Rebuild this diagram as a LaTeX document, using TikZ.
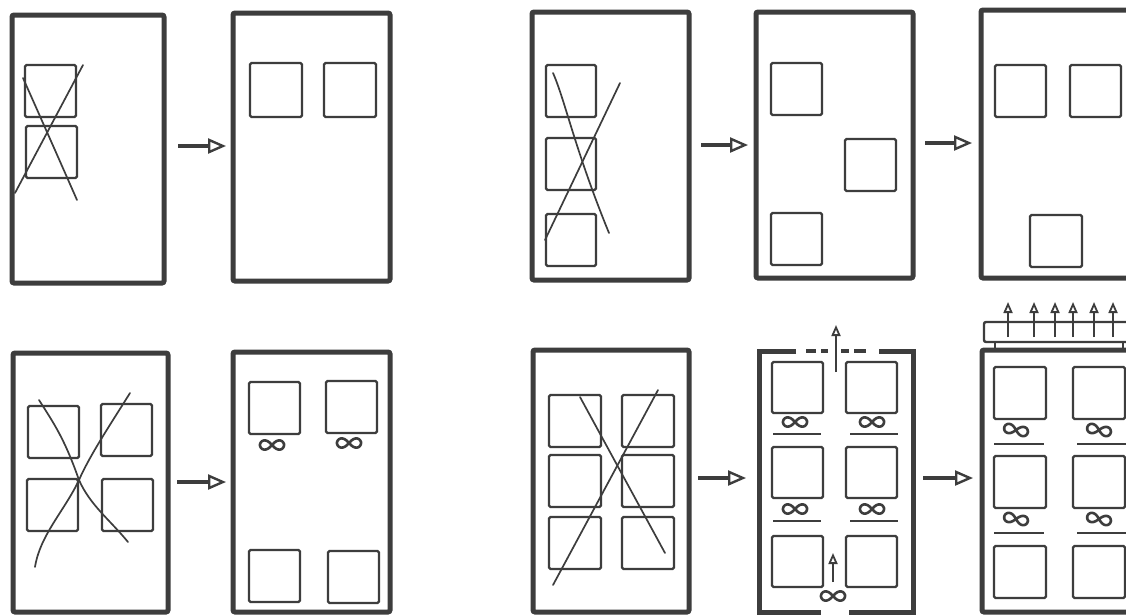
\documentclass[tikz,border=0pt]{standalone}
\usepackage{amsmath,amssymb}
\usetikzlibrary{arrows.meta,calc}

\definecolor{ink}{gray}{0.24}

\tikzset{
  cabinet/.style={draw=ink, line width=5pt, rounded corners=2pt},
  module/.style={draw=ink, line width=2.3pt, rounded corners=1.5pt},
  strike/.style={draw=ink, line width=1.7pt, line cap=round},
  bar/.style={draw=ink, line width=2pt},
  moveto/.style={draw=ink, line width=3.6pt,
    -{Triangle[open, length=18pt, width=15pt, line width=2.4pt]}},
  airflow/.style={draw=ink, line width=1.7pt,
    -{Triangle[open, length=11pt, width=9pt, line width=1.8pt]}},
  lemni/.pic={
    \draw[ink, line width=2.6pt] plot[variable=\t, domain=0:360, samples=72, smooth cycle]
      ({12*cos(\t)/(1+sin(\t)^2)}, {13*sin(\t)*cos(\t)/(1+sin(\t)^2)});
  },
}

\begin{document}
\begin{tikzpicture}[x=1pt, y=-1pt]

\useasboundingbox (0,0) rectangle (1126,614);
\clip (0,0) rectangle (1126,614);
\fill[white] (0,0) rectangle (1126,614);

% === Top row, left pair: two stacked modules -> side by side ===
\draw[cabinet] (12,15) rectangle (164,283);
\draw[module] (25,65) rectangle (76,117);
\draw[module] (26,126) rectangle (77,178);
% crossed out
\draw[strike] (23,78) .. controls (35,105) and (55,150) .. (77,200);
\draw[strike] (83,65) -- (15,193);

\draw[cabinet] (233,13) rectangle (390,281);
\draw[module] (250,63) rectangle (302,117);
\draw[module] (324,63) rectangle (376,117);

\coordinate (a1s) at (178,146);
\coordinate (a1e) at (226,146);
\draw[moveto] (a1s) -- (a1e);

% === Top row, right triple: three stacked modules -> staggered -> spread ===
\draw[cabinet] (532,12) rectangle (689,280);
\foreach \y in {65,138,214}
  \draw[module] (546,\y) rectangle (596,\y+52);
\draw[strike] (553,73) .. controls (565,100) and (575,150) .. (609,233);
\draw[strike] (620,83) -- (545,240);

\coordinate (a2s) at (701,145);
\coordinate (a2e) at (748,145);
\draw[moveto] (a2s) -- (a2e);

\draw[cabinet] (756,12) rectangle (913,278);
\draw[module] (771,63) rectangle (822,115);
\draw[module] (845,139) rectangle (896,191);
\draw[module] (771,213) rectangle (822,265);

\coordinate (a3s) at (925,143);
\coordinate (a3e) at (972,143);
\draw[moveto] (a3s) -- (a3e);

\draw[cabinet] (981,10) rectangle (1145,278);
\draw[module] (995,65) rectangle (1046,117);
\draw[module] (1070,65) rectangle (1121,117);
\draw[module] (1030,215) rectangle (1082,267);

% === Bottom row, left pair: 2x2 block -> spread with spacing ===
\draw[cabinet] (13,353) rectangle (168,612);
\foreach \x/\y in {28/406,101/404,27/479,102/479}
  \draw[module] (\x,\y) rectangle (\x+51,\y+52);
\draw[strike] (39,400) .. controls (55,425) and (65,440) .. (79,480)
  .. controls (90,505) and (110,520) .. (128,542);
\draw[strike] (130,393) .. controls (110,425) and (90,455) .. (79,480)
  .. controls (65,510) and (40,535) .. (35,567);

\coordinate (a4s) at (177,482);
\coordinate (a4e) at (226,482);
\draw[moveto] (a4s) -- (a4e);

\draw[cabinet] (233,352) rectangle (390,612);
\foreach \x/\y in {249/382,326/381,249/550,328/551}
  \draw[module] (\x,\y) rectangle (\x+51,\y+52);
\pic at (272,445) {lemni};
\pic at (349,443) {lemni};

% === Bottom row, right triple: 2x3 block -> gaps + open top/bottom -> hood ===
\draw[cabinet] (533,350) rectangle (689,612);
\foreach \y in {395,455,517}
  \foreach \x in {549,622}
    \draw[module] (\x,\y) rectangle (\x+52,\y+52);
\draw[strike] (580,397) -- (665,553);
\draw[strike] (658,390) -- (553,585);

\coordinate (a5s) at (698,478);
\coordinate (a5e) at (746,478);
\draw[moveto] (a5s) -- (a5e);

% cabinet with openings in top and bottom
\draw[cabinet, rounded corners=0pt] (796,351) -- (759,351) -- (759,612) -- (821,612);
\draw[cabinet, rounded corners=0pt] (849,612) -- (913,612) -- (913,351) -- (879,351);
\foreach \a/\b in {806/816,821/828,841/849,854/866}
  \draw[ink, line width=3.5pt] (\a,351) -- (\b,351);
\foreach \y in {362,447,536}
  \foreach \x in {772,846}
    \draw[module] (\x,\y) rectangle (\x+51,\y+51);
\foreach \y in {422,509}
  \foreach \x in {795,872} {
    \pic at (\x,\y) {lemni};
    \draw[bar] (\x-22,\y+12) -- (\x+26,\y+12);
  }
\pic at (833,596) {lemni};
\coordinate (iin) at (833,582);
\coordinate (iup) at (833,553);
\draw[airflow] (iin) -- (iup);
\coordinate (iout) at (836,372);
\coordinate (itop) at (836,325);
\draw[airflow] (iout) -- (itop);

\coordinate (a6s) at (923,478);
\coordinate (a6e) at (973,478);
\draw[moveto] (a6s) -- (a6e);

% cabinet with extraction hood on top
\draw[cabinet] (982,350) rectangle (1145,612);
\draw[bar, line width=2.4pt, rounded corners=2pt] (984,322) rectangle (1145,342);
\draw[bar] (995,350) -- (995,342) (1123,350) -- (1123,342);
\foreach \x in {1008,1034,1055,1073,1094,1113} {
  \coordinate (h\x) at (\x,337);
  \coordinate (t\x) at (\x,302);
  \draw[airflow] (h\x) -- (t\x);
}
\foreach \y in {367,456,546}
  \foreach \x in {994,1073}
    \draw[module] (\x,\y) rectangle (\x+52,\y+52);
\foreach \y in {430,519}
  \foreach \x in {1016,1099} {
    \pic[rotate=-12] at (\x,\y) {lemni};
    \draw[bar] (\x-22,\y+14) -- (\x+28,\y+14);
  }

\end{tikzpicture}
\end{document}
